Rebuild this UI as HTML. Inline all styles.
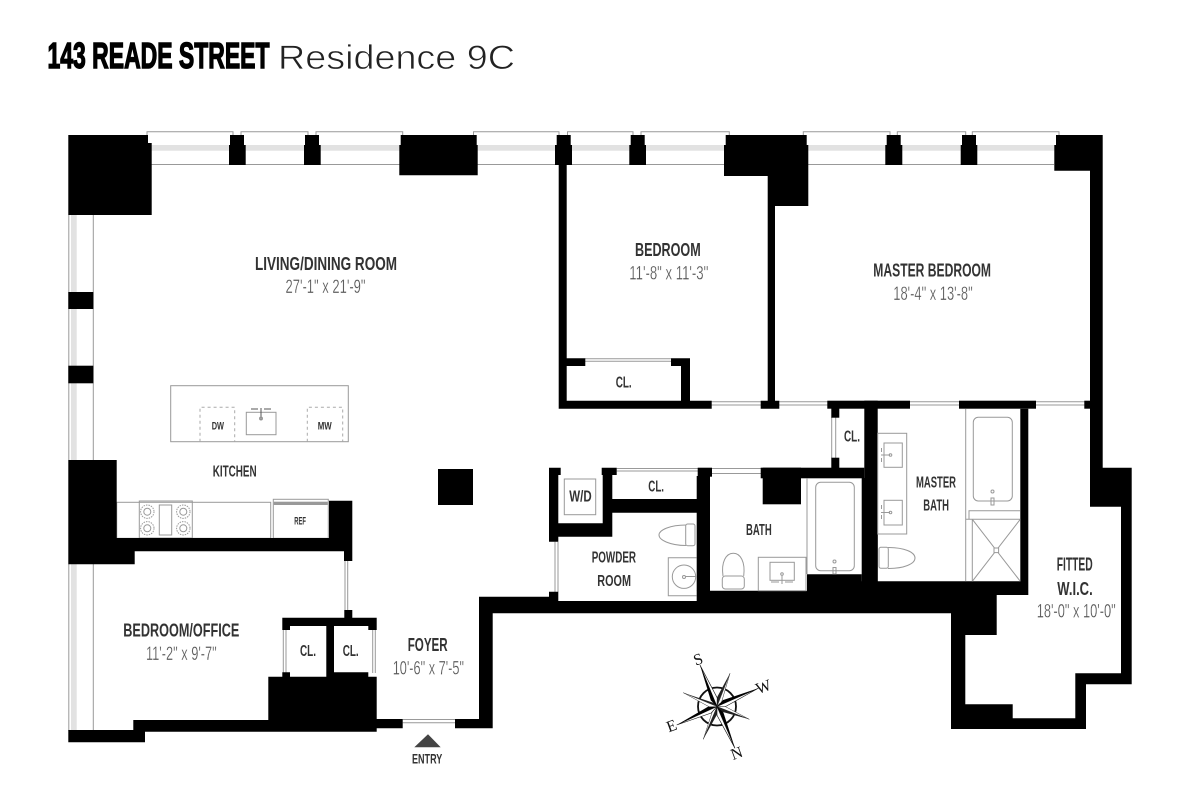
<!DOCTYPE html>
<html>
<head>
<meta charset="utf-8">
<style>
html,body{margin:0;padding:0;background:#fff}
svg{display:block}
.l{font-family:"Liberation Sans",sans-serif;font-weight:700;fill:#333;font-size:18.5px}
.d{font-family:"Liberation Sans",sans-serif;font-weight:400;fill:#555;font-size:19px;stroke:#fff;stroke-width:.25px}
.s{font-family:"Liberation Sans",sans-serif;font-weight:700;fill:#333;font-size:15.5px}
.t{font-family:"Liberation Sans",sans-serif;font-weight:700;fill:#333;font-size:11px}
.f{fill:none;stroke:#999;stroke-width:1}
.c{font-family:"Liberation Serif",serif;font-size:16px;fill:#111}
</style>
</head>
<body>
<svg width="1197" height="801" viewBox="0 0 1197 801" xmlns="http://www.w3.org/2000/svg">
<rect width="1197" height="801" fill="#fff"/>

<!-- title -->
<text x="47.500" y="68" font-family="Liberation Sans" font-weight="700" font-size="36" fill="#000" stroke="#000" stroke-width="1.400" textLength="222" lengthAdjust="spacingAndGlyphs">143 READE STREET</text>
<text x="278" y="69" font-family="Liberation Sans" font-weight="400" font-size="34" fill="#222" stroke="#fff" stroke-width=".7" textLength="237" lengthAdjust="spacingAndGlyphs">Residence 9C</text>

<!-- top windows: frames -->
<g class="f">
<path d="M147 135V131.700H233V135M241 135V131.700H308V135M316 135V131.700H402.700V135M473.500 135V131.700H559V135M567.500 135V131.700H633V135M641 135V131.700H729.300V135M803.300 135V131.700H890V135M897.300 135V131.700H965.700V135M972.300 135V131.700H1059V135"/>
<path d="M151 164.500H400M477 164.500H556M572 164.500H725M245 164.500H305M808 164.500H1054"/>
<path d="M93.300 215V460M93.300 564V731M68.800 215V460M68.800 564V731"/>
</g>
<g fill="#e2e2e2">
<rect x="151" y="145" width="79" height="5.700"/>
<rect x="245" y="145" width="60" height="5.700"/>
<rect x="320" y="145" width="80" height="5.700"/>
<rect x="477" y="145" width="80" height="5.700"/>
<rect x="571" y="145" width="60" height="5.700"/>
<rect x="645" y="145" width="80" height="5.700"/>
<rect x="807" y="145" width="79" height="5.700"/>
<rect x="901" y="145" width="60" height="5.700"/>
<rect x="976" y="145" width="79" height="5.700"/>
<rect x="71" y="215" width="5.700" height="245"/>
<rect x="71" y="564" width="5.700" height="167"/>
</g>

<!-- counters -->
<g class="f">
<rect x="116.700" y="502.300" width="154" height="36"/>
<rect x="273.300" y="499.300" width="55" height="39"/>
<rect x="170.700" y="385.700" width="177.600" height="56"/>
<rect x="246.300" y="412.300" width="29.700" height="22.400"/>
<path d="M261 408V420" stroke="#555"/>
<circle cx="261" cy="418.500" r="1.500"/>
<path d="M251 409H258M264 409H271" stroke="#555"/>
<path d="M200 441.700V407.300H234.700V441.700M307.300 441.700V407.300H342.700V441.700" stroke-dasharray="3 3" stroke="#aaa"/>
</g>
<rect x="273.800" y="501.700" width="54" height="3.300" fill="#999"/>
<!-- range -->
<g class="f" stroke-width="0.800">
<rect x="139.300" y="501" width="53" height="37"/>
<rect x="159.300" y="505" width="12.400" height="30"/>
<circle cx="147.300" cy="511.700" r="6.700" stroke-dasharray="1.500 1"/><circle cx="147.300" cy="511.700" r="3.500"/>
<circle cx="147.300" cy="528.300" r="6.700" stroke-dasharray="1.500 1"/><circle cx="147.300" cy="528.300" r="3.500"/>
<circle cx="183.300" cy="511.700" r="6.700" stroke-dasharray="1.500 1"/><circle cx="183.300" cy="511.700" r="3.500"/>
<circle cx="183.300" cy="528.300" r="6.700" stroke-dasharray="1.500 1"/><circle cx="183.300" cy="528.300" r="3.500"/>
</g>

<!-- door / thin lines -->
<g class="f">
<path d="M585 358.700H671M585 361.300H671"/>
<path d="M711 401.700H761M711 405H761M779 401.700H828M779 405H828"/>
<path d="M910 401.700H959M910 405H959M1036 401.700H1085M1036 405H1085"/>
<path d="M831.700 417V458M835.700 417V458"/>
<path d="M616.700 468.500H698M616.700 471H698"/>
<path d="M712 468.500H761M712 473.500H761"/>
<path d="M555 541.700V592M558 541.700V592"/>
<path d="M345 543V611M347.700 543V611"/>
<path d="M283.300 630V673M286 630V673M372.700 630V673M375.300 630V673"/>
<path d="M402.700 719.500H455M402.700 722.700H455"/>
</g>

<!-- WALLS -->
<g fill="#000">
<path d="M68.300 135H148V143H151.700V215H68.300Z"/>
<path d="M230 135H244V145H245.700V165H229V145H230Z"/>
<path d="M305 135H319V145H320.700V165H304V145H305Z"/>
<path d="M400.700 135H476.700V145H477.700V175.300H399.300V145H400.700Z"/>
<path d="M556.700 135H570.700V145H572V165H566.700V358.300H585.300V366H566.700V400.700H681V366H671V358.300H690V400.700H711.700V408.700H558.700V165H555V145H556.700Z"/>
<path d="M630.700 135H644.700V145H646V165H629.300V145H630.700Z"/>
<path d="M725.700 135H806.700V145H808.300V206H775V400.700H779.300V408.700H760.700V400.700H767.700V176H724V145H725.700Z"/>
<path d="M886.700 135H900.700V145H902.300V165H885.300V145H886.700Z"/>
<path d="M962 135H976V145H977.300V165H960.700V145H962Z"/>
<!-- outer shell right + bottom band -->
<path d="M1056 135H1102.700V467.700H1131.700V684.300H1086V729H951V613.300H492.700V728.300H455V719H479V596.700H549V591.700H558.300V601H696.700V590.700H807V574.300H861.700V581.300H1020.300V408.700H1028.300V595H996.700V635H965.300V704.300H1012.700V718.300H1075.300V673.300H1121V506.700H1090V170.700H1054.300V145H1056Z"/>
<!-- bath / master bath walls -->
<rect x="861.700" y="478" width="16" height="104"/>
<rect x="864.300" y="400.700" width="13.400" height="181"/>
<rect x="696.700" y="476" width="13.300" height="115"/>
<rect x="697.700" y="467.700" width="14.300" height="9"/>
<rect x="760.700" y="467.700" width="103.600" height="10.600"/>
<rect x="762.700" y="467.700" width="38.300" height="36.600"/>
<rect x="827.300" y="400.700" width="82.700" height="8"/>
<rect x="959" y="400.700" width="77" height="8"/>
<rect x="1084.300" y="400.700" width="6" height="8"/>
<rect x="831.300" y="408" width="8" height="9.700"/>
<rect x="831.300" y="457.700" width="8" height="11"/>
<path d="M549 467.700H560.700V475H558.300V523.300H602.700V475H601.700V467.700H616.700V475H612.300V499H697V512.700H612.300V536.700H558.300V541.700H549Z"/>
<rect x="68.300" y="292" width="25" height="17"/>
<rect x="68.300" y="365.700" width="25" height="17.600"/>
<path d="M68.300 460H116.700V538H329V500.700H352.300V561H344V551.300H134.700V564.300H68.300Z"/>
<path d="M282.300 617.700H344.300V610H352.300V617.700H376.700V630H368.300V626H334V672.300H368.300V676.700H376.700V719H402.700V728.300H376.700V731.700H145V742.300H68.300V730H133.300V720H268.300V676.700H282.300V672.300H290V676.700H326.300V626H290V630H282.300Z"/>
<rect x="438" y="469" width="35" height="36"/>
</g>

<!-- W/D, fixtures -->
<g class="f">
<rect x="564.300" y="479" width="31.400" height="35.700"/>
<!-- powder -->
<rect x="685.700" y="524" width="9.300" height="21.700" rx="2"/>
<path d="M686 525C670 525 659 530 659 535C659 540 670 545.500 686 545.500"/>
<path d="M696.500 557.700H668.300V595.700H696.500"/>
<circle cx="684" cy="576.700" r="11.700"/>
<circle cx="684" cy="577" r="1.500"/>
<path d="M685 576.500H696"/>
<!-- bath -->
<path d="M723 576C721 562 726 553.300 733.300 553.300C740.500 553.300 745.500 562 743.700 576"/>
<rect x="722.300" y="576" width="22" height="13" rx="3"/>
<rect x="758.300" y="557.300" width="47.700" height="33.400"/>
<rect x="770" y="562.300" width="24.300" height="18"/>
<path d="M782 575V584M771 582H779M785 582H793"/>
<circle cx="782" cy="574" r="1.300"/>
<rect x="815.700" y="482.300" width="38.600" height="88.400" rx="5"/>
<circle cx="834.500" cy="561.500" r="1.500"/>
<path d="M833 567.500H836V574H833Z"/>
<path d="M807 478.300V574"/>
<!-- master bath -->
<rect x="877.700" y="433.300" width="29" height="100.700"/>
<rect x="884" y="443" width="18.300" height="24.300"/>
<rect x="884" y="500.300" width="18.300" height="24.700"/>
<circle cx="890.500" cy="455" r="1.300"/><circle cx="890.500" cy="512.500" r="1.300"/>
<path d="M881 455H890M881 512.500H890M881.500 448V452M881.500 458V462M881.500 505V509M881.500 515V519"/>
<rect x="879" y="547.300" width="9.300" height="21" rx="2"/>
<path d="M888 547.500C904 547.500 915 552 915 558C915 564 904 568.500 888 568.500"/>
<path d="M965.700 408.700V581.300"/>
<rect x="973.300" y="417.300" width="39" height="83.700" rx="5"/>
<circle cx="992.500" cy="491.500" r="1.500"/>
<path d="M991 498H994V505H991Z"/>
<path d="M965.700 519.300H1020.300M969 519.300V510.700H1020.300M972.300 519.300V581.300M972.300 519.300L1020.300 581.300M1020.300 519.300L972.300 581.300"/>
<rect x="994" y="548" width="4.600" height="4.600" fill="#fff"/>
</g>

<!-- entry triangle -->
<path d="M428 734.300L440.700 747.300H414.300Z" fill="#444"/>

<!-- labels -->
<text class="l" x="255" y="270" textLength="142" lengthAdjust="spacingAndGlyphs">LIVING/DINING ROOM</text>
<text class="d" x="285.500" y="293" textLength="80" lengthAdjust="spacingAndGlyphs">27'-1" x 21'-9"</text>
<text class="l" x="635" y="256" textLength="65.700" lengthAdjust="spacingAndGlyphs">BEDROOM</text>
<text class="d" x="629.300" y="279.300" textLength="79" lengthAdjust="spacingAndGlyphs">11'-8" x 11'-3"</text>
<text class="l" x="873.300" y="276.700" textLength="117.700" lengthAdjust="spacingAndGlyphs">MASTER BEDROOM</text>
<text class="d" x="893.300" y="300" textLength="79.400" lengthAdjust="spacingAndGlyphs">18'-4" x 13'-8"</text>
<text class="s" x="615.700" y="387.700" textLength="16" lengthAdjust="spacingAndGlyphs">CL.</text>
<text class="t" x="211.700" y="429.300" textLength="12.300" lengthAdjust="spacingAndGlyphs">DW</text>
<text class="t" x="317.700" y="429.300" textLength="14" lengthAdjust="spacingAndGlyphs">MW</text>
<text class="s" x="212.700" y="476.700" textLength="44" lengthAdjust="spacingAndGlyphs">KITCHEN</text>
<text class="t" x="294.300" y="524.700" textLength="11.700" lengthAdjust="spacingAndGlyphs">REF</text>
<text class="l" x="123.300" y="636.700" textLength="116" lengthAdjust="spacingAndGlyphs">BEDROOM/OFFICE</text>
<text class="d" x="146" y="660" textLength="70.700" lengthAdjust="spacingAndGlyphs">11'-2" x 9'-7"</text>
<text class="s" x="300" y="656" textLength="16" lengthAdjust="spacingAndGlyphs">CL.</text>
<text class="s" x="342.700" y="656" textLength="16" lengthAdjust="spacingAndGlyphs">CL.</text>
<text class="l" x="407.700" y="651" textLength="40" lengthAdjust="spacingAndGlyphs">FOYER</text>
<text class="d" x="392.700" y="674.300" textLength="71.300" lengthAdjust="spacingAndGlyphs">10'-6" x 7'-5"</text>
<text class="s" x="412" y="763.300" style="font-size:14px" textLength="30.300" lengthAdjust="spacingAndGlyphs">ENTRY</text>
<text class="s" x="844" y="441.700" textLength="16" lengthAdjust="spacingAndGlyphs">CL.</text>
<text class="s" x="648.300" y="491.700" textLength="15.700" lengthAdjust="spacingAndGlyphs">CL.</text>
<text class="s" x="569.300" y="501.700" textLength="22.400" lengthAdjust="spacingAndGlyphs">W/D</text>
<text class="s" x="591.700" y="562.700" textLength="44.300" lengthAdjust="spacingAndGlyphs">POWDER</text>
<text class="s" x="597.300" y="586" textLength="33.700" lengthAdjust="spacingAndGlyphs">ROOM</text>
<text class="s" x="746" y="535" textLength="25.700" lengthAdjust="spacingAndGlyphs">BATH</text>
<text class="s" x="916" y="487.700" textLength="40" lengthAdjust="spacingAndGlyphs">MASTER</text>
<text class="s" x="923.300" y="510.700" textLength="25.700" lengthAdjust="spacingAndGlyphs">BATH</text>
<text class="l" x="1056.700" y="570.700" textLength="36" lengthAdjust="spacingAndGlyphs">FITTED</text>
<text class="l" x="1057.300" y="595" textLength="35.400" lengthAdjust="spacingAndGlyphs">W.I.C.</text>
<text class="d" x="1036.700" y="617.700" textLength="79" lengthAdjust="spacingAndGlyphs">18'-0" x 10'-0"</text>

<!-- compass -->
<g>
<circle cx="717" cy="706.500" r="19" fill="none" stroke="#111" stroke-width="1.800"/>
<!-- minor rays -->
<path d="M730 673.300L717 706.500L714.500 702Z" fill="#222"/>
<path d="M730 673.300L717 706.500L721 704Z" fill="#fff" stroke="#333" stroke-width=".5"/>
<path d="M683.300 692.700L717 706.500L714 703Z" fill="#222"/>
<path d="M683.300 692.700L717 706.500L715 710Z" fill="#fff" stroke="#333" stroke-width=".5"/>
<path d="M749.300 719.300L717 706.500L719.500 703.500Z" fill="#fff" stroke="#333" stroke-width=".5"/>
<path d="M749.300 719.300L717 706.500L715.500 710Z" fill="#222"/>
<path d="M703.300 739.300L717 706.500L713 709.500Z" fill="#fff" stroke="#333" stroke-width=".5"/>
<path d="M703.300 739.300L717 706.500L719.500 710Z" fill="#222"/>
<!-- major rays -->
<path d="M700 665L717 706.500L717.200 697.800Z" fill="#fff" stroke="#111" stroke-width=".6"/>
<path d="M700 665L717 706.500L710.800 700.400Z" fill="#000"/>
<path d="M758.300 688.300L717 706.500L725.700 706.500Z" fill="#fff" stroke="#111" stroke-width=".6"/>
<path d="M758.300 688.300L717 706.500L722.900 700.100Z" fill="#000"/>
<path d="M676.700 725L717 706.500L711.200 713Z" fill="#fff" stroke="#111" stroke-width=".6"/>
<path d="M676.700 725L717 706.500L708.200 706.600Z" fill="#000"/>
<path d="M735 748.300L717 706.500L723.400 712.500Z" fill="#000"/>
<path d="M735 748.300L717 706.500L717 715.300Z" fill="#fff" stroke="#111" stroke-width=".6"/>
<text class="c" x="698" y="664.500" text-anchor="middle" transform="rotate(-20 698 659)">S</text>
<text class="c" x="763.300" y="692" text-anchor="middle" transform="rotate(-20 763.300 686.500)">W</text>
<text class="c" x="671.500" y="731" text-anchor="middle" transform="rotate(-20 671.500 725.500)">E</text>
<text class="c" x="736.500" y="758.500" text-anchor="middle" transform="rotate(-20 736.500 753)">N</text>
</g>
</svg>
</body>
</html>
